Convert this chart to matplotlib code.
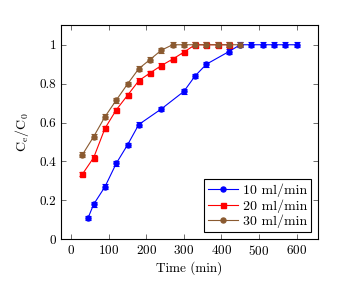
import matplotlib
matplotlib.use("Agg")
import matplotlib.pyplot as plt
from matplotlib.lines import Line2D

plt.rcParams['font.family'] = 'serif'
plt.rcParams['font.serif'] = ['cmr10', 'DejaVu Serif']
plt.rcParams['mathtext.fontset'] = 'cm'
plt.rcParams['axes.formatter.use_mathtext'] = True

t10 = [45, 60, 90, 120, 150, 180, 240, 300, 330, 360, 420, 450, 480, 510, 540, 570, 600]
c10 = [0.11, 0.18, 0.27, 0.39, 0.485, 0.59, 0.67, 0.76, 0.84, 0.90, 0.965, 1.0, 1.0, 1.0, 1.0, 1.0, 1.0]
e10 = [0.012] * len(t10)

t20 = [30, 60, 90, 120, 150, 180, 210, 240, 270, 300, 330, 360, 390, 420]
c20 = [0.335, 0.42, 0.57, 0.665, 0.74, 0.815, 0.855, 0.893, 0.926, 0.962, 1.0, 1.0, 1.0, 1.0]
e20 = [0.012] * len(t20)

t30 = [30, 60, 90, 120, 150, 180, 210, 240, 270, 300, 330, 360, 390, 420, 450]
c30 = [0.435, 0.528, 0.63, 0.715, 0.798, 0.877, 0.924, 0.972, 1.0, 1.0, 1.0, 1.0, 1.0, 1.0, 1.0]
e30 = [0.012] * len(t30)

labels = ['10 ml/min', '20 ml/min', '30 ml/min']
colors = ['#0000ff', '#ff0000', '#8a5a30']

fig = plt.figure(figsize=(3.57, 2.99), dpi=100)
ax = fig.add_axes([61/357, 1 - 239.3/299, (318 - 61)/357, (239.3 - 25.3)/299])

series = [(t10, c10, e10, 'o'), (t20, c20, e20, 's'), (t30, c30, e30, 'o')]
handles = []
for (t, c, e, m), lab, col in zip(series, labels, colors):
    ax.errorbar(t, c, yerr=e, color=col, marker=m, markersize=3.6, linewidth=0.8,
                elinewidth=0.8, capsize=2, capthick=0.8)
    handles.append(Line2D([], [], color=col, marker=m, markersize=3.6,
                          linewidth=0.8, label=lab))

ax.set_xlim(-27, 657)
ax.set_ylim(0, 1.1)
ax.set_xticks([0, 100, 200, 300, 400, 500, 600])
ax.set_yticks([0, 0.2, 0.4, 0.6, 0.8, 1.0])
ax.set_yticklabels(['0', '0.2', '0.4', '0.6', '0.8', '1'])
ax.tick_params(direction='in', top=True, right=True, length=3.5, width=0.6,
               labelsize=9.5, color='#555555')
for s in ax.spines.values():
    s.set_linewidth(0.8)
ax.set_xlabel('Time (min)', fontsize=9.5, labelpad=2)
ax.set_ylabel(r'$\mathrm{C_e/C_0}$', fontsize=10, labelpad=6)

leg = ax.legend(handles=handles, loc='lower right', fontsize=10, frameon=True,
                fancybox=False, edgecolor='black', framealpha=1, handlelength=2.2,
                borderpad=0.3, labelspacing=0.15, handletextpad=0.3,
                borderaxespad=0.5)
leg.get_frame().set_linewidth(0.8)

fig.savefig('out.png', dpi=100)
